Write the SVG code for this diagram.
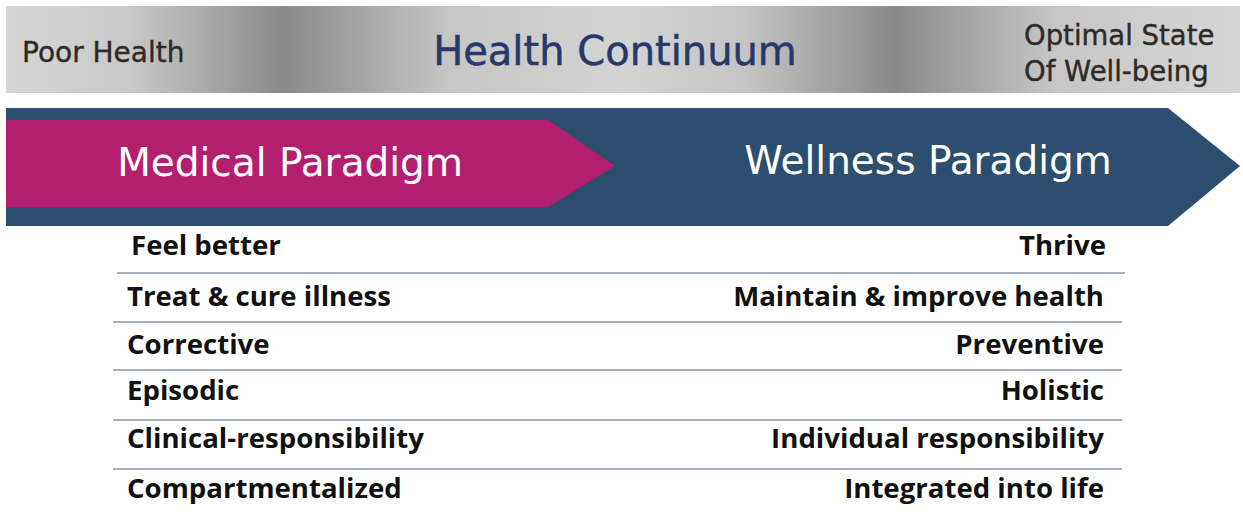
<svg xmlns="http://www.w3.org/2000/svg" width="1243" height="516" viewBox="0 0 1243 516">
<defs>
<linearGradient id="band" x1="6" y1="0" x2="1240" y2="0" gradientUnits="userSpaceOnUse">
<stop offset="0" stop-color="#d6d6d6"/>
<stop offset="0.1" stop-color="#c9c9c9"/>
<stop offset="0.225" stop-color="#8a8a8a"/>
<stop offset="0.36" stop-color="#c6c6c6"/>
<stop offset="0.5" stop-color="#d4d4d4"/>
<stop offset="0.6" stop-color="#c4c4c4"/>
<stop offset="0.72" stop-color="#8a8a8a"/>
<stop offset="0.85" stop-color="#c6c6c6"/>
<stop offset="1" stop-color="#d6d6d6"/>
</linearGradient>
<style>
.hdr{font-family:"DejaVu Sans",Verdana,sans-serif;fill:#2f2a26;stroke:#2f2a26;stroke-width:0.4}
.title{font-family:"DejaVu Sans",Verdana,sans-serif;fill:#27386a;stroke:#27386a;stroke-width:0.5}
.para{font-family:"DejaVu Sans",Verdana,sans-serif;fill:#ffffff}
.row{font-family:"Open Sans",Lato,sans-serif;font-weight:bold;font-size:27.6px;fill:#111111}
.sep{stroke:#8796ad;stroke-width:1.6;fill:none}
</style>
</defs>
<rect width="1243" height="516" fill="#ffffff"/>
<g id="banner">
<rect x="6" y="6" width="1234" height="87" fill="url(#band)"/>
<text class="hdr" x="22" y="62" font-size="28">Poor Health</text>
<text class="title" x="615" y="65" font-size="40" text-anchor="middle">Health Continuum</text>
<text class="hdr" x="1024" y="45" font-size="27.5">Optimal State</text>
<text class="hdr" x="1024" y="81" font-size="27.5">Of Well-being</text>
</g>
<g id="wellness">
<polygon points="6,108 1168,108 1240,166 1168,226 6,226" fill="#2c4e6f"/>
<text class="para" x="928" y="174" font-size="39" text-anchor="middle">Wellness Paradigm</text>
</g>
<g id="medical">
<polygon points="6,120 548,120 615,166 548,207 6,207" fill="#b41e6f"/>
<text class="para" x="290" y="176" font-size="39" text-anchor="middle">Medical Paradigm</text>
</g>
<g id="separators">
<line class="sep" x1="117" y1="273" x2="1125" y2="273"/>
<line class="sep" x1="113" y1="322" x2="1122" y2="322"/>
<line class="sep" x1="113" y1="370" x2="1122" y2="370"/>
<line class="sep" x1="113" y1="420" x2="1122" y2="420"/>
<line class="sep" x1="113" y1="469" x2="1122" y2="469"/>
</g>
<g id="medical-items">
<text class="row" x="131" y="255">Feel better</text>
<text class="row" x="127" y="306">Treat &amp; cure illness</text>
<text class="row" x="127" y="354">Corrective</text>
<text class="row" x="127" y="400">Episodic</text>
<text class="row" x="127" y="448">Clinical-responsibility</text>
<text class="row" x="127" y="498">Compartmentalized</text>
</g>
<g id="wellness-items">
<text class="row" x="1106" y="255" text-anchor="end">Thrive</text>
<text class="row" x="1104" y="306" text-anchor="end">Maintain &amp; improve health</text>
<text class="row" x="1104" y="354" text-anchor="end">Preventive</text>
<text class="row" x="1104" y="400" text-anchor="end">Holistic</text>
<text class="row" x="1104" y="448" text-anchor="end">Individual responsibility</text>
<text class="row" x="1104" y="498" text-anchor="end">Integrated into life</text>
</g>
</svg>
